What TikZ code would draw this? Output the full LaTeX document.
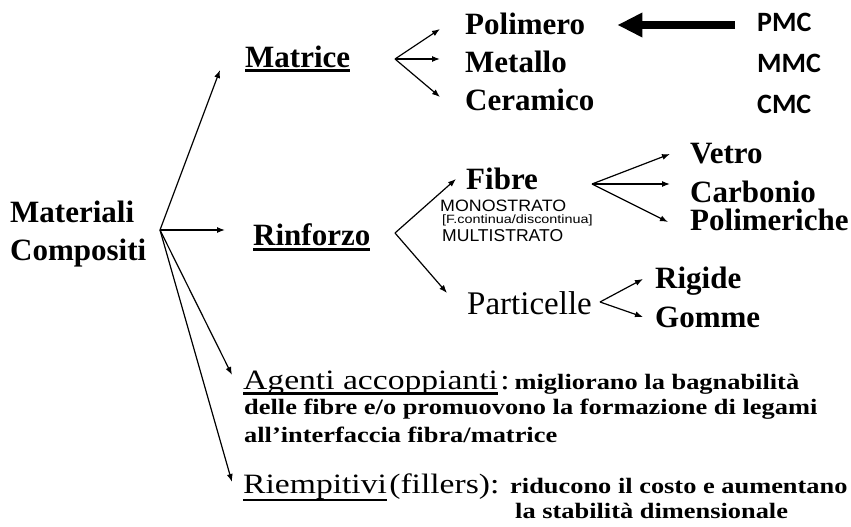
\documentclass[tikz,border=0pt]{standalone}
\usepackage{fontspec}
\usepackage{graphicx}
\setmainfont{Liberation Serif}
\newfontfamily\widefont[FakeStretch=1.2]{Liberation Serif}
\newfontfamily\widesans{Liberation Sans}
\newfontfamily\smallsans[FakeStretch=1.2]{Liberation Sans}
\newfontfamily\acrofont{Carlito}
\usetikzlibrary{arrows.meta,calc}

\begin{document}
\begin{tikzpicture}[x=1pt,y=-1pt,
  lab/.style={anchor=base west,inner sep=0pt,font=\fontsize{31}{31}\selectfont\bfseries},
  acro/.style={anchor=base west,inner sep=0pt,font=\fontsize{28}{28}\selectfont\acrofont\bfseries},
  sans/.style={anchor=base west,inner sep=0pt,font=\fontsize{16}{16}\selectfont\widesans},
  desc/.style={anchor=base west,inner sep=0pt,font=\fontsize{28}{28}\selectfont\widefont},
  note/.style={anchor=base west,inner sep=0pt,font=\fontsize{22}{22}\selectfont\widefont\bfseries},
  arr/.style={-{Latex[length=8pt,width=6pt]},line width=1.2pt},
  bigarrow/.style={-{Triangle[length=25pt,width=23pt]},line width=8.5pt},
  uline/.style={line width=2.5pt}]
\useasboundingbox (0,0) rectangle (851,527);

\node[lab] (materiali) at (10,222) {Materiali};
\node[lab] (compositi) at (10,260) {Compositi};
\node[lab] (matrice) at (245,67) {Matrice};
\node[lab] (rinforzo) at (253,245) {Rinforzo};

\node[lab] (polimero) at (465,35) {Polimero};
\node[lab] (metallo) at (465,73) {Metallo};
\node[lab] (ceramico) at (465,110) {Ceramico};

\node[acro] (pmc) at (757,32) {PMC};
\node[acro] (mmc) at (757,73) {MMC};
\node[acro] (cmc) at (757,113) {CMC};

\node[lab] (fibre) at (466,189) {Fibre};
\node[sans] (mono) at (440,211) {\resizebox{126pt}{11.5pt}{MONOSTRATO}};
\node[sans,font=\fontsize{12}{12}\selectfont\smallsans] (fcont) at (442,223) {[F.continua/discontinua]};
\node[sans] (multi) at (442,241) {\resizebox{121pt}{12pt}{MULTISTRATO}};

\node[lab] (vetro) at (690,163) {Vetro};
\node[lab] (carbonio) at (690,202) {Carbonio};
\node[lab] (polimeriche) at (690,230) {Polimeriche};

\node[lab,font=\fontsize{33}{33}\selectfont] (particelle) at (467,314) {Particelle};
\node[lab] (rigide) at (655,288) {Rigide};
\node[lab] (gomme) at (655,327) {Gomme};

\node[desc] (agenti) at (243,389) {Agenti accoppianti};
\node[desc] (agenti1) at ($(agenti.base east)+(2,0)$) {:\hspace{5pt}{\fontsize{22}{22}\selectfont\bfseries migliorano la bagnabilità}};
\node[note] (agenti2) at (244,414) {delle fibre e/o promuovono la formazione di legami};
\node[note] (agenti3) at (244,442) {all’interfaccia fibra/matrice};

\node[desc] (riemp) at (243,493) {Riempitivi};
\node[desc] (fillers) at ($(riemp.base east)+(2,0)$) {(fillers):};
\node[note] (riemp1) at (510,493) {riducono il costo e aumentano};
\node[note] (riemp2) at (515,518) {la stabilità dimensionale};

% forks
\coordinate (root) at (160,230);
\coordinate (mfork) at (395,59);
\coordinate (rfork) at (395,233);
\coordinate (ffork) at (592,184);
\coordinate (pfork) at (600,302);

\draw[arr] (root) -- ($(matrice.base west)+(-25,3)$);
\draw[arr] (root) -- ($(rinforzo.base west)+(-28,-15)$);
\draw[arr] (root) -- ($(agenti.base west)+(-11,-14)$);
\draw[arr] (root) -- ($(riemp.base west)+(-11,-11)$);

\draw[arr] (mfork) -- ($(polimero.base west)+(-25,-6)$);
\draw[arr] (mfork) -- ($(metallo.base west)+(-25,-14)$);
\draw[arr] (mfork) -- ($(ceramico.base west)+(-25,-13)$);

\draw[arr] (rfork) -- ($(fibre.base west)+(-10,-10)$);
\draw[arr] (rfork) -- ($(particelle.base west)+(-20,-21)$);

\draw[arr] (ffork) -- ($(vetro.base west)+(-20,-9)$);
\draw[arr] (ffork) -- ($(carbonio.base west)+(-20,-18)$);
\draw[arr] (ffork) -- ($(polimeriche.base west)+(-22,-8)$);

\draw[arr] (pfork) -- ($(rigide.base west)+(-12,-9)$);
\draw[arr] (pfork) -- ($(gomme.base west)+(-12,-10)$);

\draw[bigarrow] ($(pmc.base west)+(-22,-7)$) -- ($(polimero.base east)+(32,-10)$);

% underlines
\draw[uline] ($(matrice.base west)+(0,3.5)$) -- ($(matrice.base east)+(0,3.5)$);
\draw[uline] ($(rinforzo.base west)+(0,4.5)$) -- ($(rinforzo.base east)+(0,4.5)$);
\draw[uline] ($(agenti.base west)+(0,4.5)$) -- ($(agenti.base east)+(0,4.5)$);
\draw[uline] ($(riemp.base west)+(0,7)$) -- ($(riemp.base east)+(0,7)$);
\end{tikzpicture}
\end{document}
